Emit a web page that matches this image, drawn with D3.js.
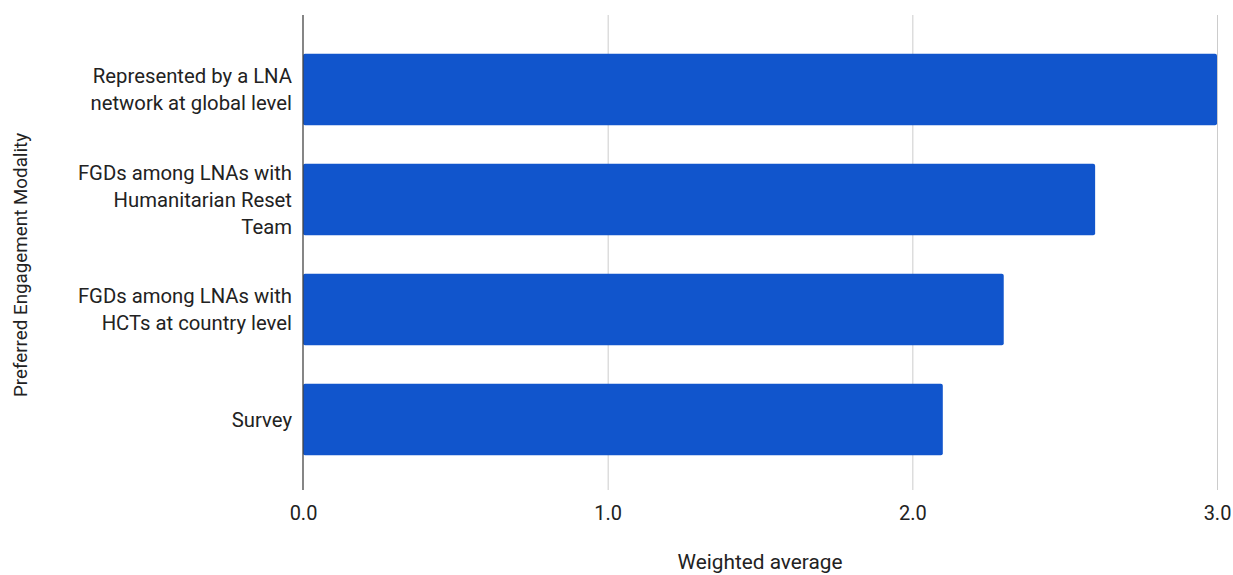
<!DOCTYPE html>
<html><head><meta charset="utf-8">
<script src="https://cdn.jsdelivr.net/npm/d3@7"></script>
<style>body{margin:0;background:#fff}svg{display:block}text{font-family:Roboto,sans-serif;fill:#222}</style>
</head><body><svg id="c" width="1233" height="575"></svg>
<script>
const categories = [
  ["Represented by a LNA", "network at global level"],
  ["FGDs among LNAs with", "Humanitarian Reset", "Team"],
  ["FGDs among LNAs with", "HCTs at country level"],
  ["Survey"]
];
const values = [3.0, 2.6, 2.3, 2.1];
const xTicks = [0, 1, 2, 3];
const xTitle = "Weighted average";
const yTitle = "Preferred Engagement Modality";

const svg = d3.select("#c");
const pLeft = 303, pRight = 1217, pTop = 15, pBottom = 490;
const x = d3.scaleLinear().domain([0, 3]).range([pLeft, pRight]);
const y = d3.scaleBand().domain(d3.range(categories.length)).range([35, 474]).paddingInner(0.35).paddingOuter(0.17);

// gridlines
svg.append("g").selectAll("line").data(xTicks.slice(1)).join("line")
  .attr("x1", d => x(d) + 0.5).attr("x2", d => x(d) + 0.5)
  .attr("y1", pTop).attr("y2", pBottom).attr("stroke", "#cccccc").attr("stroke-width", 1);

// bars
svg.append("g").selectAll("rect").data(values).join("rect")
  .attr("x", x(0)).attr("y", (d, i) => y(i))
  .attr("width", d => x(d) - x(0)).attr("height", y.bandwidth())
  .attr("rx", 2).attr("fill", "#1155cc");

// baseline
svg.append("line").attr("x1", x(0)).attr("x2", x(0)).attr("y1", pTop).attr("y2", pBottom)
  .attr("stroke", "#444").attr("stroke-width", 1.3);

// x axis labels via d3 axis
const xa = svg.append("g").attr("transform", `translate(0,${pBottom})`)
  .call(d3.axisBottom(x).tickValues(xTicks).tickFormat(d3.format(".1f")).tickSize(0).tickPadding(16));
xa.select(".domain").remove();
xa.selectAll("text").attr("font-size", 20).attr("fill", "#333").style("font-family", "Roboto,sans-serif");

// y category labels
const lh = 27;
const yl = svg.append("g");
categories.forEach((lines, i) => {
  const cy = y(i) + y.bandwidth() / 2;
  const t = yl.append("text").attr("text-anchor", "end").attr("font-size", 20.3);
  lines.forEach((l, j) => {
    t.append("tspan").attr("x", pLeft - 11)
      .attr("y", cy + (j - (lines.length - 1) / 2) * lh).attr("dy", "0.35em").text(l);
  });
});

// titles
svg.append("text").attr("x", (pLeft + pRight) / 2).attr("y", 569)
  .attr("text-anchor", "middle").attr("font-size", 20.8).text(xTitle);
svg.append("text").attr("transform", `translate(20,265) rotate(-90)`).attr("dy", "0.35em")
  .attr("text-anchor", "middle").attr("font-size", 18.8).text(yTitle);
</script></body></html>
